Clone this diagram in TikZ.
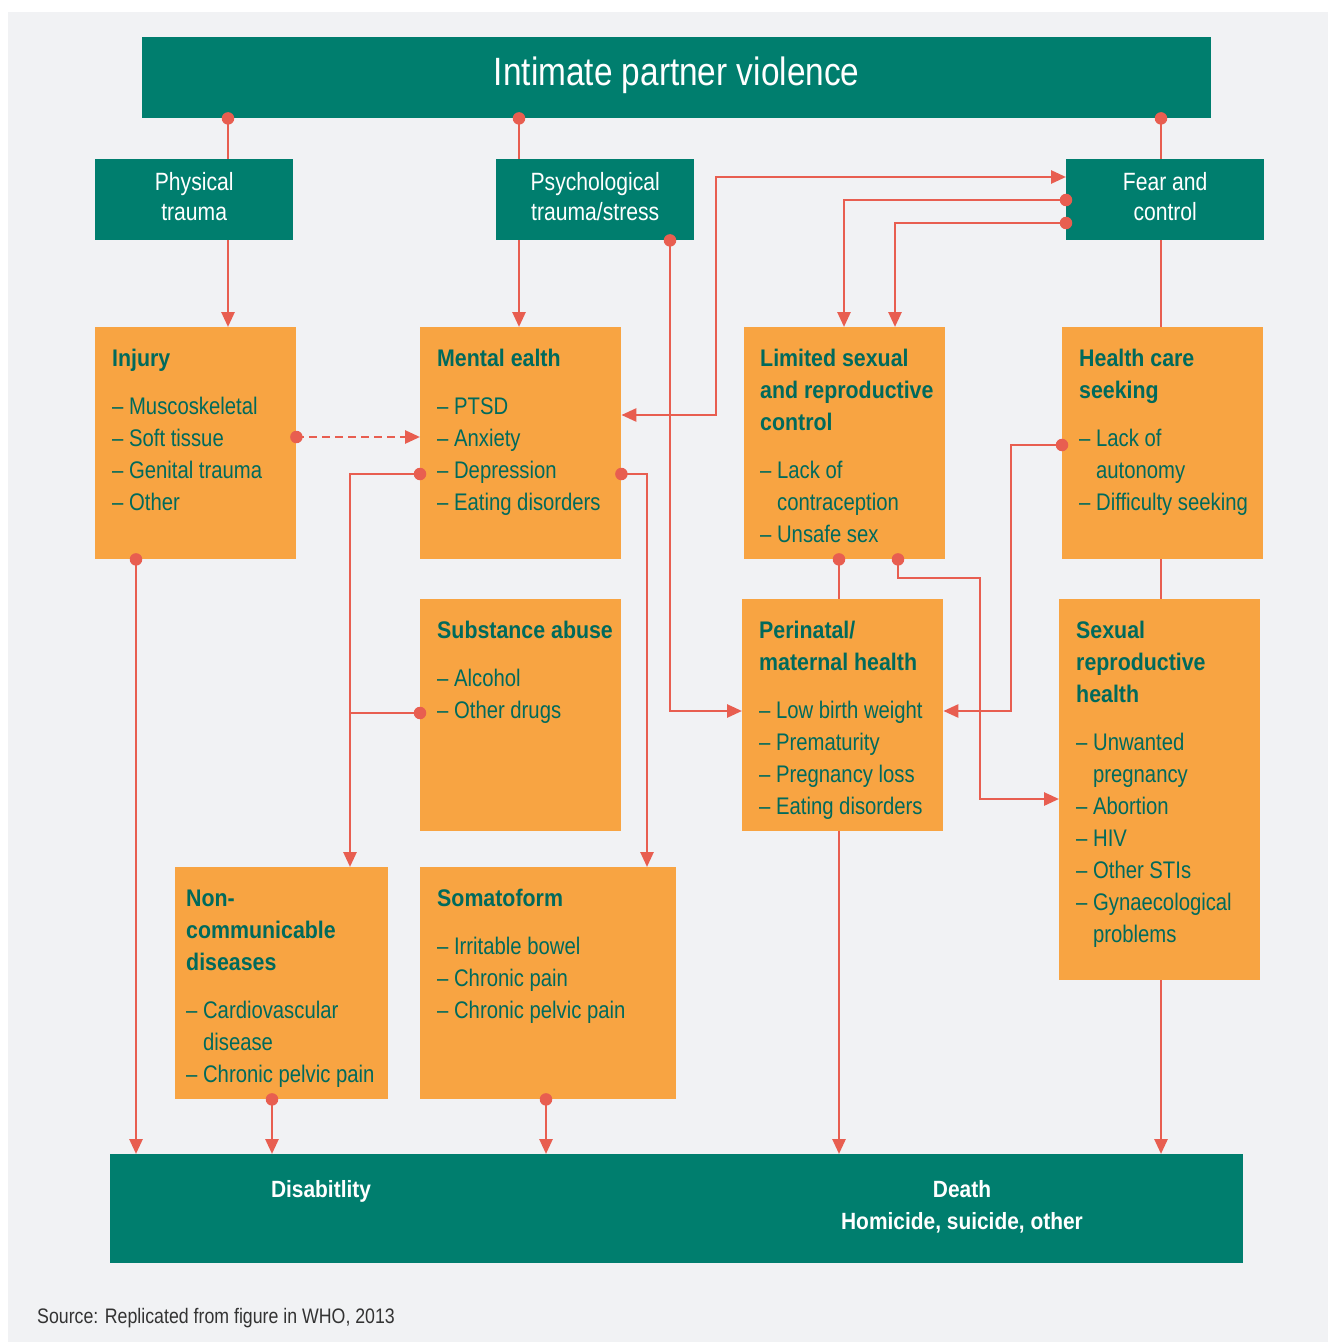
\documentclass[tikz,border=0pt]{standalone}
\usepackage{fontspec}
\setmainfont[FakeStretch=0.845,BoldFeatures={FakeStretch=0.89}]{Liberation Sans}
\usetikzlibrary{arrows.meta}
\definecolor{tealc}{RGB}{0,126,110}
\definecolor{orangec}{RGB}{248,164,66}
\definecolor{redc}{RGB}{232,94,80}
\definecolor{bgc}{RGB}{241,242,244}
\definecolor{txtc}{RGB}{0,106,92}
\definecolor{srcc}{RGB}{51,51,51}
\begin{document}
\begin{tikzpicture}[x=1pt,y=-1pt,
  tbox/.style={fill=tealc,draw=none,inner sep=0pt,anchor=north west},
  obox/.style={fill=orangec,draw=none,inner sep=0pt,anchor=north west},
  wtext/.style={text=white,align=center,inner sep=0pt,font=\fontsize{25}{30}\selectfont},
  otext/.style={text=txtc,inner sep=0pt,anchor=base west,font=\fontsize{24}{32}\selectfont},
  btext/.style={text=white,inner sep=0pt,anchor=base,font=\fontsize{23.5}{32}\selectfont\bfseries},
  conn/.style={draw=redc,line width=2.7pt},
  arr/.style={conn,-{Triangle[length=15pt,width=13pt]}},
  dot/.style={circle,fill=redc,draw=none,inner sep=0pt,minimum size=12.5pt,solid}
]
\useasboundingbox (0,0) rectangle (1328,1343);
\fill[white] (0,0) rectangle (1328,1343);
\fill[bgc] (8,12) rectangle (1328,1342);

% teal boxes
\node[tbox,minimum width=1069,minimum height=81] (title) at (142,37) {};
\node[tbox,minimum width=198,minimum height=81] (phys) at (95,159) {};
\node[tbox,minimum width=198,minimum height=81] (psych) at (496,159) {};
\node[tbox,minimum width=198,minimum height=81] (fear) at (1066,159) {};
\node[tbox,minimum width=1133,minimum height=109] (bottom) at (110,1154) {};

% orange boxes
\node[obox,minimum width=201,minimum height=232] (injury) at (95,327) {};
\node[obox,minimum width=201,minimum height=232] (mental) at (420,327) {};
\node[obox,minimum width=201,minimum height=232] (limited) at (744,327) {};
\node[obox,minimum width=201,minimum height=232] (health) at (1062,327) {};
\node[obox,minimum width=201,minimum height=232] (substance) at (420,599) {};
\node[obox,minimum width=201,minimum height=232] (perinatal) at (742,599) {};
\node[obox,minimum width=201,minimum height=381] (sexual) at (1059,599) {};
\node[obox,minimum width=213,minimum height=232] (noncomm) at (175,867) {};
\node[obox,minimum width=256,minimum height=232] (somato) at (420,867) {};

% texts
\node[text=white,inner sep=0pt,anchor=base,font=\fontsize{39.5}{44}\selectfont] (titleT) at (title.center |- 0,86) {Intimate partner violence};
\node[wtext,yshift=3pt] (physT) at (phys.center) {Physical\\trauma};
\node[wtext,yshift=3pt] (psychT) at (psych.center) {Psychological\\trauma/stress};
\node[wtext,yshift=3pt] (fearT) at (fear.center) {Fear and\\control};

\node[otext] (injuryT) at (112,366) {\parbox[t]{200pt}{\textbf{Injury}\\[16pt]– Muscoskeletal\\– Soft tissue\\– Genital trauma\\– Other}};
\node[otext] (mentalT) at (437,366) {\parbox[t]{200pt}{\textbf{Mental ealth}\\[16pt]– PTSD\\– Anxiety\\– Depression\\– Eating disorders}};
\node[otext] (limitedT) at (760,366) {\parbox[t]{200pt}{\textbf{Limited sexual}\\\textbf{and reproductive}\\\textbf{control}\\[16pt]– Lack of\\\hphantom{– }contraception\\– Unsafe sex}};
\node[otext] (healthT) at (1079,366) {\parbox[t]{200pt}{\textbf{Health care}\\\textbf{seeking}\\[16pt]– Lack of\\\hphantom{– }autonomy\\– Difficulty seeking}};
\node[otext] (substanceT) at (437,638) {\parbox[t]{200pt}{\textbf{Substance abuse}\\[16pt]– Alcohol\\– Other drugs}};
\node[otext] (perinatalT) at (759,638) {\parbox[t]{200pt}{\textbf{Perinatal/}\\\textbf{maternal health}\\[16pt]– Low birth weight\\– Prematurity\\– Pregnancy loss\\– Eating disorders}};
\node[otext] (sexualT) at (1076,638) {\parbox[t]{200pt}{\textbf{Sexual}\\\textbf{reproductive}\\\textbf{health}\\[16pt]– Unwanted\\\hphantom{– }pregnancy\\– Abortion\\– HIV\\– Other STIs\\– Gynaecological\\\hphantom{– }problems}};
\node[otext] (noncommT) at (186,906) {\parbox[t]{200pt}{\textbf{Non-}\\\textbf{communicable}\\\textbf{diseases}\\[16pt]– Cardiovascular\\\hphantom{– }disease\\– Chronic pelvic pain}};
\node[otext] (somatoT) at (437,906) {\parbox[t]{240pt}{\textbf{Somatoform}\\[16pt]– Irritable bowel\\– Chronic pain\\– Chronic pelvic pain}};

\node[btext] (disT) at (321,1197) {Disabitlity};
\node[btext] (deathT) at (962,1197) {Death};
\node[btext] (homT) at (962,1229) {Homicide, suicide, other};
\node[text=srcc,inner sep=0pt,anchor=base west,font=\fontsize{21}{25}\selectfont] (src) at (37,1323) {Source: Replicated from figure in WHO, 2013};

% connectors
\draw[conn] (228,0 |- title.south) node[dot]{} -- (228,0 |- phys.north);
\draw[conn] (519,0 |- title.south) node[dot]{} -- (519,0 |- psych.north);
\draw[conn] (1161,0 |- title.south) node[dot]{} -- (1161,0 |- fear.north);

\draw[arr] (228,0 |- phys.south) -- (228,0 |- injury.north);
\draw[arr] (519,0 |- psych.south) -- (519,0 |- mental.north);
\draw[conn] (1161,0 |- fear.south) -- (1161,0 |- health.north);
\draw[conn] (1161,0 |- health.south) -- (1161,0 |- sexual.north);
\draw[arr] (1161,0 |- sexual.south) -- (1161,0 |- bottom.north);

\draw[arr] (670,0 |- psych.south) node[dot]{} -- (670,711) -- (perinatal.west |- 0,711);
\draw[conn,{Triangle[length=15pt,width=13pt]}-{Triangle[length=15pt,width=13pt]}] (mental.east |- 0,415) -- (716,415) -- (716,177) -- (fear.west |- 0,177);
\draw[arr] (fear.west |- 0,200) node[dot]{} -- (844,200) -- (844,0 |- limited.north);
\draw[arr] (fear.west |- 0,223) node[dot]{} -- (895,223) -- (895,0 |- limited.north);

\draw[arr,dash pattern=on 8pt off 5pt] (injury.east |- 0,437) node[dot]{} -- (mental.west |- 0,437);
\draw[arr] (mental.west |- 0,474) node[dot]{} -- (350,474) -- (350,0 |- noncomm.north);
\draw[conn] (substance.west |- 0,713) node[dot]{} -- (350,713);
\draw[arr] (mental.east |- 0,474) node[dot]{} -- (647,474) -- (647,0 |- somato.north);

\draw[conn] (839,0 |- limited.south) node[dot]{} -- (839,0 |- perinatal.north);
\draw[arr] (839,0 |- perinatal.south) -- (839,0 |- bottom.north);
\draw[arr] (health.west |- 0,445) node[dot]{} -- (1011,445) -- (1011,711) -- (perinatal.east |- 0,711);
\draw[arr] (898,0 |- limited.south) node[dot]{} -- (898,578) -- (980,578) -- (980,799) -- (sexual.west |- 0,799);

\draw[arr] (136,0 |- injury.south) node[dot]{} -- (136,0 |- bottom.north);
\draw[arr] (272,0 |- noncomm.south) node[dot]{} -- (272,0 |- bottom.north);
\draw[arr] (546,0 |- somato.south) node[dot]{} -- (546,0 |- bottom.north);
\end{tikzpicture}
\end{document}
